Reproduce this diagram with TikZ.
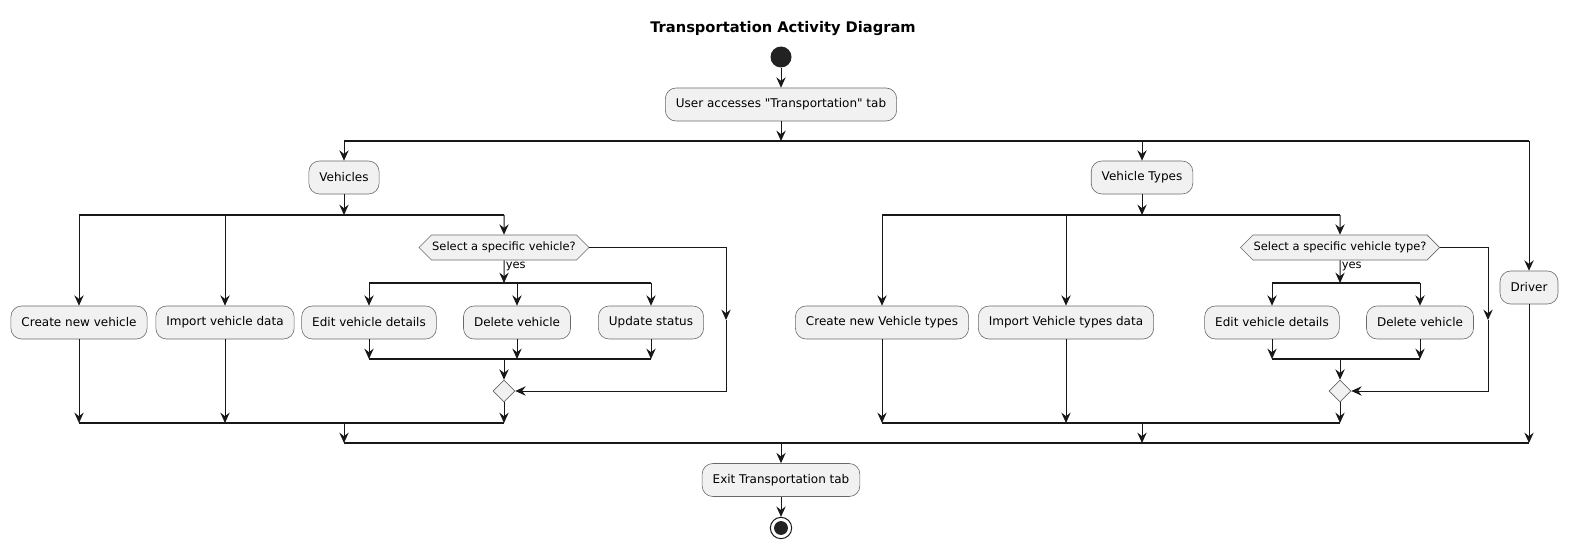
\documentclass[tikz,border=0pt]{standalone}
\usepackage{fontspec}
\setmainfont{DejaVu Sans}
\usetikzlibrary{positioning,shapes.geometric,shapes.symbols,arrows.meta,calc}
\definecolor{boxfill}{HTML}{F1F1F1}
\definecolor{ink}{HTML}{181818}
\definecolor{dot}{HTML}{222222}

\begin{document}
\begin{tikzpicture}[x=0.75pt, y=-0.75pt,
        >={Stealth[length=7.8pt, width=7pt, inset=2.7pt]},
        flow/.style={->, draw=ink, line width=0.75pt},
        bar/.style={draw=ink, line width=1.4pt},
        act/.style={rectangle, rounded corners=8pt, draw=ink!65, line width=0.45pt,
          fill=boxfill, minimum height=24.75pt, inner xsep=7.9pt,
          font=\fontsize{9}{11}\selectfont},
        choice/.style={signal, signal to=west and east, draw=ink!65, line width=0.45pt,
          fill=boxfill, minimum height=18.75pt, inner xsep=0.5pt, inner ysep=0pt,
          font=\fontsize{8.6}{10}\selectfont},
        merge/.style={diamond, draw=ink!65, line width=0.45pt, fill=boxfill,
          minimum size=16.5pt, inner sep=0pt},
      ]
      \useasboundingbox (0,0) rectangle (1569,549);

      \node[font=\bfseries\fontsize{11}{13}\selectfont] (title) at (783,28.5) {Transportation Activity Diagram};
      \node[circle, fill=dot, minimum size=15.75pt, inner sep=0pt] (start) at (781,57) {};
      \node[act] (user) at (781,104.5) {User accesses \textquotedbl Transportation\textquotedbl{} tab};

      % bars: forks and joins
      \foreach \name/\xa/\xb/\xc/\y in {
        f1/344/781/1529/141, f2/79/344/504/215, f3/369/504/651/283, j3/369/504/651/359,
        j2/79/344/504/423, f4/882/1142/1340/215, f5/1272/1340/1420/283,
        j5/1272/1340/1420/359, j4/882/1142/1340/423, j1/344/781/1529/443}
      {
        \coordinate (\name L) at (\xa,\y);
        \coordinate (\name) at (\xb,\y);
        \coordinate (\name R) at (\xc,\y);
        \draw[bar] (\name L) -- (\name R);
      }

      \draw[flow] (start) -- (user);
      \draw[flow] (user) -- (f1);

      % three top level branches
      \node[act] (veh) at (344,177.5) {Vehicles};
      \node[act] (vtype) at (1142,177.5) {Vehicle Types};
      \node[act] (driver) at (1529,287.5) {Driver};
      \foreach \n in {veh, vtype, driver}
        \draw[flow] (\n |- f1) -- (\n);
      \draw[flow] (veh) -- (f2);
      \draw[flow] (vtype) -- (f4);
      \draw[flow] (driver) -- (driver |- j1);

      % Vehicles
      \foreach \n/\x/\t in {newveh/79/Create new vehicle, impveh/225/Import vehicle data,
        editveh/369/Edit vehicle details, delveh/517/Delete vehicle, status/651/Update status}
        \node[act] (\n) at (\x,322.5) {\t};
      \foreach \n in {newveh, impveh}
      {
        \draw[flow] (\n |- f2) -- (\n);
        \draw[flow] (\n) -- (\n |- j2);
      }
      \node[choice] (selveh) at (504,247.5) {Select a specific vehicle?};
      \draw[flow] (f2R) -- (selveh);
      \draw[flow] (selveh) -- node[pos=0, anchor=north west, inner sep=1pt,
        font=\fontsize{8.6}{10}\selectfont] {yes} (f3);
      \foreach \n in {editveh, delveh, status}
      {
        \draw[flow] (\n |- f3) -- (\n);
        \draw[flow] (\n) -- (\n |- j3);
      }
      \node[merge] (mveh) at (504,391) {};
      \coordinate (skipveh) at (726,320);
      \draw[flow] (j3) -- (mveh);
      \draw[flow] (selveh.east) -| (skipveh);
      \draw[flow] (skipveh) |- (mveh.east);
      \draw[flow] (mveh) -- (j2R);
      \draw[flow] (j2) -- (j1L);

      % Vehicle Types
      \foreach \n/\x/\t in {newtype/882/Create new Vehicle types, imptype/1066/Import Vehicle types data,
        edittype/1272/Edit vehicle details, deltype/1420/Delete vehicle}
        \node[act] (\n) at (\x,322.5) {\t};
      \foreach \n in {newtype, imptype}
      {
        \draw[flow] (\n |- f4) -- (\n);
        \draw[flow] (\n) -- (\n |- j4);
      }
      \node[choice] (seltype) at (1340,247.5) {Select a specific vehicle type?};
      \draw[flow] (f4R) -- (seltype);
      \draw[flow] (seltype) -- node[pos=0, anchor=north west, inner sep=1pt,
        font=\fontsize{8.6}{10}\selectfont] {yes} (f5);
      \foreach \n in {edittype, deltype}
      {
        \draw[flow] (\n |- f5) -- (\n);
        \draw[flow] (\n) -- (\n |- j5);
      }
      \node[merge] (mtype) at (1340,391) {};
      \coordinate (skiptype) at (1488,320);
      \draw[flow] (j5) -- (mtype);
      \draw[flow] (seltype.east) -| (skiptype);
      \draw[flow] (skiptype) |- (mtype.east);
      \draw[flow] (mtype) -- (j4R);
      \draw[flow] (j4) -- (j4 |- j1);

      % exit
      \node[act] (exit) at (781,480) {Exit Transportation tab};
      \node[circle, draw=ink, line width=0.75pt, fill=white, minimum size=16pt, inner sep=0pt,
        path picture={\fill[dot] (path picture bounding box.center) circle (5.2pt);}] (stop) at (781,528) {};
      \draw[flow] (j1) -- (exit);
      \draw[flow] (exit) -- (stop);
    \end{tikzpicture}
\end{document}
